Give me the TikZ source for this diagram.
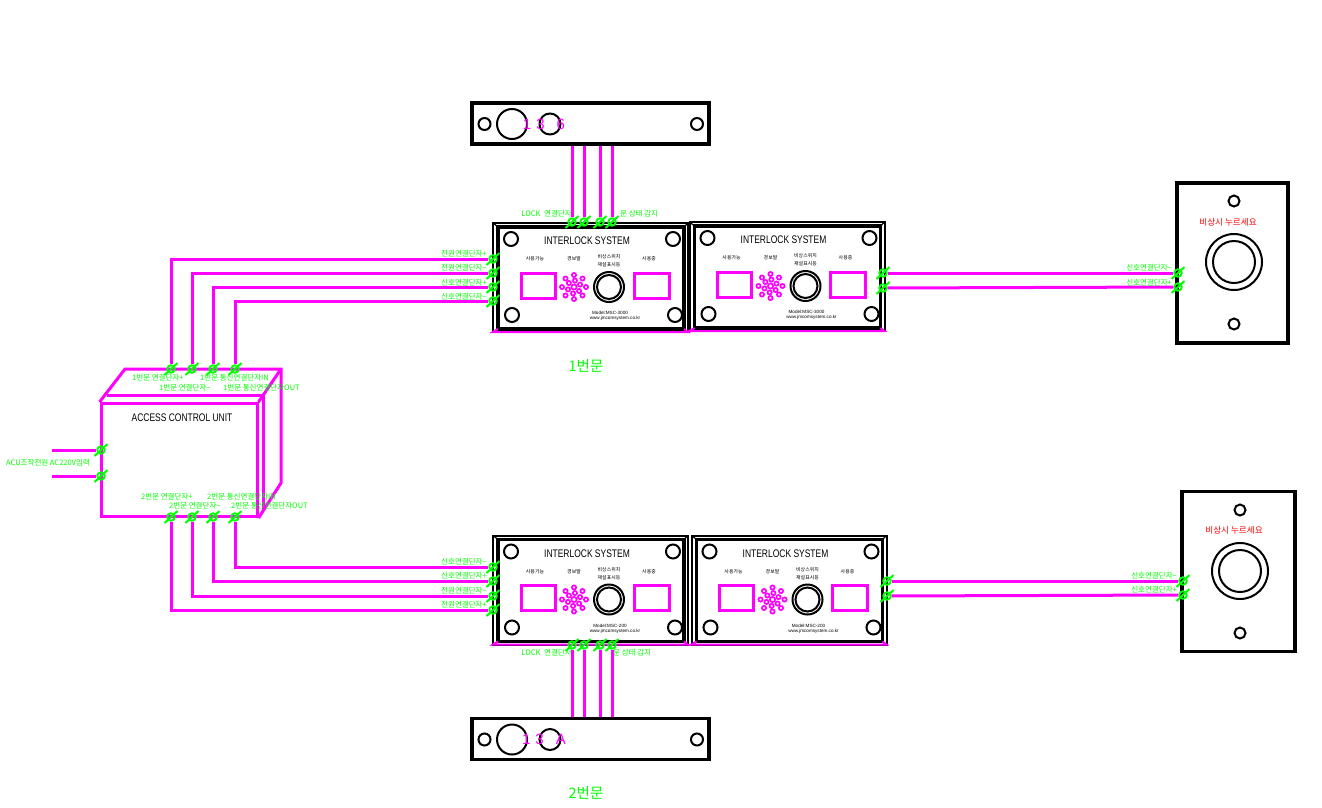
\documentclass[tikz,border=0pt]{standalone}
\usepackage{fontspec}
\setmainfont{Liberation Sans}
\newfontfamily\krfont{Noto Sans CJK KR}
\usepackage{xcolor}
\usepackage{tikz}
\usetikzlibrary{positioning}
\definecolor{wirepink}{RGB}{255,0,255}
\definecolor{termgreen}{RGB}{0,255,0}
\newcommand{\narrowtext}[1]{\scalebox{.77}[1]{#1}}
\tikzset{
  wire/.style={draw=wirepink, line width=3pt},
  blackline/.style={draw=black, line width=3.2pt},
  thinring/.style={draw=black, line width=2pt},
  term/.style={circle, draw=termgreen, line width=1.9pt, inner sep=0pt, minimum size=7.5pt,
    append after command={(\tikzlastnode.center) ++(-6.5pt,-6pt) edge[draw=termgreen, line width=2pt] ++(13pt,12pt)}},
  greenlabel/.style={text=termgreen, font=\krfont\fontsize{7.5}{8}\selectfont, inner sep=0pt},
  tinylabel/.style={text=black, font=\krfont\fontsize{4.9}{5}\selectfont, inner sep=0pt},
  latinlabel/.style={text=black, font=\fontsize{4.6}{5}\selectfont, inner sep=0pt},
  titlelabel/.style={text=black, font=\fontsize{11}{12}\selectfont, inner sep=0pt},
  doorlabel/.style={text=termgreen, font=\krfont\fontsize{14.5}{15}\selectfont, inner sep=0pt},
  locklabel/.style={text=wirepink, font=\fontsize{15}{16}\selectfont, inner sep=0pt},
  redlabel/.style={text=red, font=\krfont\fontsize{8.6}{9}\selectfont, inner sep=0pt},
  lockbox/.style={rectangle, draw=black, line width=3.4pt, inner sep=0pt, minimum width=237pt, minimum height=41pt},
  switchbox/.style={rectangle, draw=black, line width=3.4pt, inner sep=0pt, minimum width=111pt, minimum height=160pt},
  panelbox/.style={rectangle, draw=black, line width=2pt, inner sep=0pt, minimum width=195pt, minimum height=109pt}
}
\begin{document}
\begin{tikzpicture}[x=1pt, y=-1pt]
        \path[use as bounding box, fill=white] (0,0) rectangle (1322,807);

        % Panels
        \foreach \pn/\px/\py/\pm in {pa/0/0/3000, pb/196.5/-1/3000, pc/0/312.5/200, pd/198.5/312.5/200} {
          \begin{scope}[shift={(\px,\py)}]
            \node[panelbox] (\pn) at (590.5,277.5) {};
            \draw[blackline] (498,227) rectangle (684,329);
            \draw[black, line width=1.2pt] (493,223) -- (498,227) (688,223) -- (684,227) (493,332) -- (498,329);
            \draw[wirepink, line width=2pt] (498,329) -- (493,332) -- (688,332) -- (684,329);
            \foreach \cx/\cy in {511/239, 673/239, 512/315, 675/315}
              \draw[thinring] (\cx,\cy) circle[radius=7pt];
            \node[titlelabel] (\pn title) at (587,241) {\narrowtext{INTERLOCK SYSTEM}};
            \node[tinylabel] (\pn use) at (535,259) {사용가능};
            \node[tinylabel] (\pn alarm) at (574,259) {경보발};
            \node[tinylabel] (\pn sw) at (609,257) {비상스위치};
            \node[tinylabel] (\pn reset) at (609,265) {재설표시등};
            \node[tinylabel] (\pn busy) at (649,259) {사용중};
            \node[latinlabel] (\pn model) at (610,313) {Model:MSC-\pm};
            \node[latinlabel] (\pn web) at (615,318.5) {www.jmcomsystem.co.kr};
            \draw[wire] (521,273) rectangle (555,298);
            \draw[wire] (634,273) rectangle (669,298);
            \draw[thinring] (609,287) circle[radius=15pt];
            \draw[thinring] (609,287) circle[radius=12pt];
            % LED cluster
            \draw[wirepink, line width=1.7pt] (574,287) circle[radius=2.6pt];
            \foreach \ang in {0,45,...,315}
              \draw[wirepink, line width=1.7pt] ([shift={(\ang:12pt)}]574,287) circle[radius=2.1pt];
            \foreach \ang in {22,82,...,322}
              \draw[wirepink, line width=1.7pt] ([shift={(\ang:6.5pt)}]574,287) circle[radius=2.1pt];
          \end{scope}
        }

        % Door locks
        \node[lockbox] (locka) at (590.5,123.5) {};
        \node[lockbox] (lockb) at (590.5,739) {};
        \foreach \cy/\lk/\lt in {124/a/1\hspace{5pt}3\hspace{12pt}6, 739.5/b/1\hspace{5pt}3\hspace{12pt}A} {
          \draw[thinring] (484.5,\cy) circle[radius=6pt];
          \draw[thinring] (512,\cy) circle[radius=15pt];
          \draw[thinring] (550,\cy) circle[radius=10.5pt];
          \draw[thinring] (697,\cy) circle[radius=6pt];
          \node[locklabel] (text\lk) at (544,\cy) {\lt};
        }

        % Emergency switches
        \node[switchbox] (swa) at (1232.5,263) {};
        \node[switchbox, minimum width=113pt] (swb) at (1238.5,571.5) {};
        \foreach \sx/\sy in {1234/262, 1240/571} {
          \draw[thinring] (\sx,\sy-61) circle[radius=5.5pt];
          \draw[thinring] (\sx,\sy+62) circle[radius=5.5pt];
          \draw[thinring] (\sx,\sy) circle[radius=28pt];
          \draw[thinring] (\sx,\sy) circle[radius=21pt];
        }
        \node[redlabel] (swatext) at (1228,222) {비상시 누르세요};
        \node[redlabel] (swbtext) at (1234,530) {비상시 누르세요};

        % Access control unit
        \node[rectangle, draw=wirepink, line width=3pt, inner sep=0pt, minimum width=156pt, minimum height=113pt] (acu) at (179,460) {};
        \draw[wire] (acu.north west) -- (125,369) -- (281,369) -- (281,483) -- (acu.south east);
        \draw[wire] (281,369) -- (acu.north east);
        \draw[wire] (107,395) -- (263,395) -- (263,510);
        \node[titlelabel] (acutitle) at (182,418) {\narrowtext{ACCESS CONTROL UNIT}};

        % Terminals
        \foreach \n/\xx in {1/171, 2/192, 3/213, 4/235} {
          \node[term] (acutop\n) at (\xx,369) {};
          \node[term] (acubot\n) at (\xx,517) {};
        }
        \node[term] (acuin1) at (101,450) {};
        \node[term] (acuin2) at (101,476) {};
        \coordinate (powera) at (52,450);
        \coordinate (powerb) at (52,476);
        \foreach \n/\yy in {1/259, 2/273, 3/287, 4/301}
          \node[term] (paleft\n) at (493,\yy) {};
        \foreach \n/\yy in {1/610, 2/596, 3/581, 4/567}
          \node[term] (pcleft\n) at (493,\yy) {};
        \foreach \n/\xx in {1/572, 2/584, 3/600, 4/612} {
          \node[term] (patop\n) at (\xx,222) {};
          \node[term] (pcbot\n) at (\xx,645) {};
        }
        \node[term] (pbout1) at (883,273) {};
        \node[term] (pbout2) at (883,288) {};
        \node[term] (pdout1) at (887,581) {};
        \node[term] (pdout2) at (887,596) {};
        \node[term] (swain1) at (1178,273) {};
        \node[term] (swain2) at (1178,287) {};
        \node[term] (swbin1) at (1183,581) {};
        \node[term] (swbin2) at (1183,595) {};

        % Wires
        \foreach \n in {1,2,3,4} {
          \draw[wire] (acutop\n) |- (paleft\n);
          \draw[wire] (acubot\n) |- (pcleft\n);
          \draw[wire] (patop\n) -- (patop\n |- locka.south);
          \draw[wire] (pcbot\n) -- (pcbot\n |- lockb.north);
        }
        \draw[wire] (powera) -- (acuin1);
        \draw[wire] (powerb) -- (acuin2);
        \draw[wire] (pbout1) -- (swain1);
        \draw[wire] (pbout2) -- (swain2);
        \draw[wire] (pdout1) -- (swbin1);
        \draw[wire] (pdout2) -- (swbin2);

        % Labels
        \foreach \n/\yy/\lt in {1/254/전원연결단자+, 2/268/전원연결단자−, 3/283/신호연결단자+, 4/297/신호연결단자−}
          \node[greenlabel, anchor=east] (palabel\n) at (487,\yy) {\lt};
        \foreach \n/\yy/\lt in {1/562/신호연결단자−, 2/576/신호연결단자+, 3/591/전원연결단자−, 4/605/전원연결단자+}
          \node[greenlabel, anchor=east] (pclabel\n) at (487,\yy) {\lt};
        \node[greenlabel, anchor=east, xscale=1] (lockatext) at (572,214) {LOCK\hspace{2pt} 연결단자};
        \node[greenlabel, anchor=west] (dooratext) at (620,214) {문 상태 감지};
        \node[greenlabel, anchor=east] (lockbtext) at (572,653) {LOCK\hspace{2pt} 연결단자};
        \node[greenlabel, anchor=west] (doorbtext) at (613,653) {문 상태 감지};
        \node[greenlabel, anchor=east] (swalabel1) at (1172,268) {신호연결단자−};
        \node[greenlabel, anchor=east] (swalabel2) at (1172,283) {신호연결단자+};
        \node[greenlabel, anchor=east] (swblabel1) at (1177,576) {신호연결단자−};
        \node[greenlabel, anchor=east] (swblabel2) at (1177,590) {신호연결단자+};
        \node[greenlabel, anchor=west] (top1) at (132,378) {1번문 연결단자+};
        \node[greenlabel, anchor=west] (top2) at (159,388) {1번문 연결단자−};
        \node[greenlabel, anchor=west] (top3) at (200,378) {1번문 통신연결단자IN};
        \node[greenlabel, anchor=west] (top4) at (223,388) {1번문 통신연결단자OUT};
        \node[greenlabel, anchor=west] (bot1) at (141,497) {2번문 연결단자+};
        \node[greenlabel, anchor=west] (bot2) at (169,506) {2번문 연결단자−};
        \node[greenlabel, anchor=west] (bot3) at (207,497) {2번문 통신연결단자IN};
        \node[greenlabel, anchor=west] (bot4) at (231,506) {2번문 통신연결단자OUT};
        \node[greenlabel] (acupower) at (48,463) {ACU조작전원 AC220V입력};
        \node[doorlabel] (doora) at (586,366) {1번문};
        \node[doorlabel] (doorb) at (586,793) {2번문};
\end{tikzpicture}
\end{document}
